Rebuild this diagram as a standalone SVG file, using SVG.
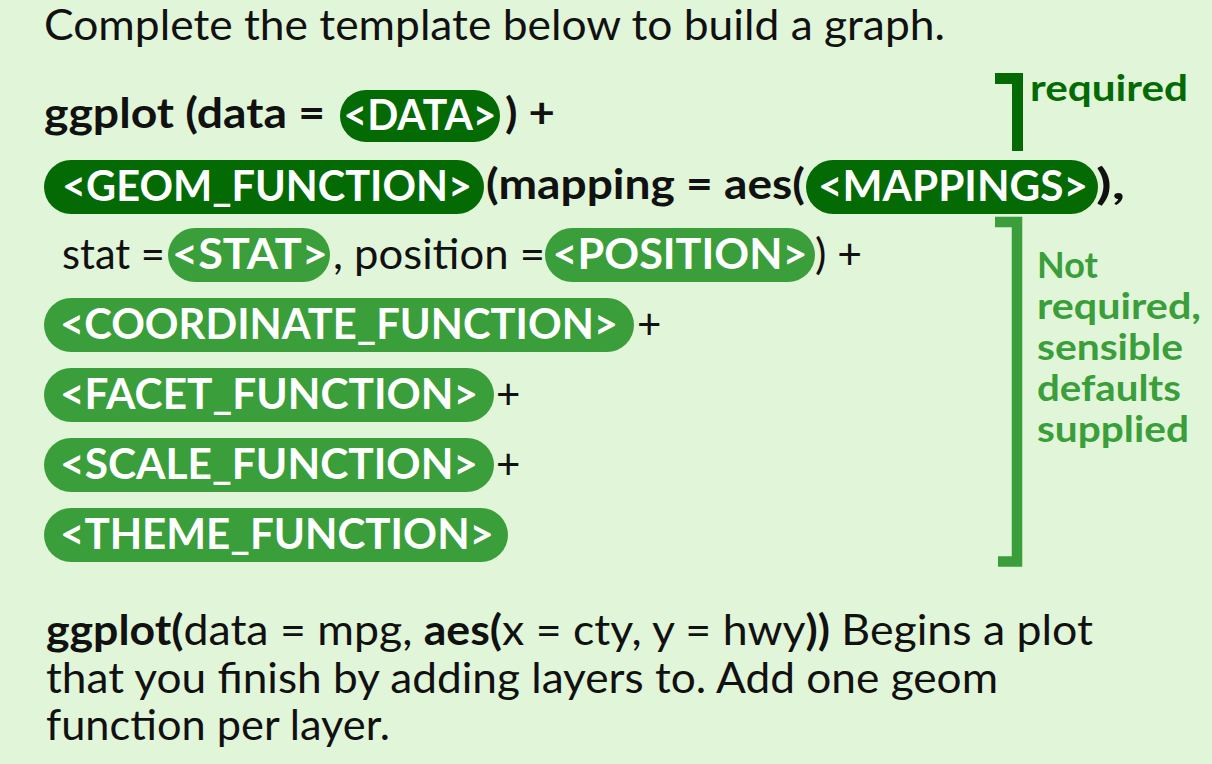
<svg xmlns="http://www.w3.org/2000/svg" width="1212" height="764" viewBox="0 0 1212 764">
  <style>
    text { font-family: Lato, "Source Sans Pro", "Noto Sans", sans-serif; }
    .title { font-size: 42px; fill: #111; }
    .code { font-size: 42px; font-weight: 700; fill: #111; }
    .plain { font-size: 42px; font-weight: 400; fill: #111; }
    .pill-dark { fill: #046A04; }
    .pill-light { fill: #3A9E3A; }
    .pill-text { font-size: 42px; font-weight: 700; fill: #fff; text-anchor: middle; }
    .note-dark { font-size: 36px; font-weight: 700; fill: #046A04; }
    .note-light { font-size: 36px; font-weight: 700; fill: #3A9E3A; }
    .body { font-size: 42px; font-weight: 400; fill: #111; }
    .b { font-weight: 700; }
  </style>
  <rect width="1212" height="764" fill="#E1F5D9"/>

  <text class="title" x="44" y="40" textLength="901" lengthAdjust="spacingAndGlyphs">Complete the template below to build a graph.</text>

  <!-- line 1: ggplot (data = <DATA>) + -->
  <g id="line-ggplot">
    <text class="code" x="44" y="128" textLength="281" lengthAdjust="spacingAndGlyphs">ggplot (data =</text>
    <rect class="pill-dark" x="340" y="90" width="160" height="52" rx="26"/>
    <text class="pill-text" x="420" y="130" textLength="153" lengthAdjust="spacingAndGlyphs">&lt;DATA&gt;</text>
    <text class="code" x="505" y="128" textLength="50" lengthAdjust="spacingAndGlyphs">) +</text>
  </g>

  <!-- line 2: geom function with mappings -->
  <g id="line-geom">
    <rect class="pill-dark" x="44" y="160" width="440" height="54" rx="27"/>
    <text class="pill-text" x="267" y="201" textLength="410" lengthAdjust="spacingAndGlyphs">&lt;GEOM_FUNCTION&gt;</text>
    <text class="code" x="486" y="199" textLength="319" lengthAdjust="spacingAndGlyphs">(mapping = aes(</text>
    <rect class="pill-dark" x="806" y="160" width="292" height="54" rx="27"/>
    <text class="pill-text" x="953" y="201" textLength="270" lengthAdjust="spacingAndGlyphs">&lt;MAPPINGS&gt;</text>
    <text class="code" x="1096" y="199" textLength="29" lengthAdjust="spacingAndGlyphs">),</text>
  </g>

  <!-- line 3: stat and position -->
  <g id="line-stat">
    <text class="plain" x="62" y="269" textLength="103" lengthAdjust="spacingAndGlyphs">stat =</text>
    <rect class="pill-light" x="168" y="228" width="162" height="54" rx="27"/>
    <text class="pill-text" x="250" y="269" textLength="156" lengthAdjust="spacingAndGlyphs">&lt;STAT&gt;</text>
    <text class="plain" x="333" y="269" textLength="212" lengthAdjust="spacingAndGlyphs">, position =</text>
    <rect class="pill-light" x="545" y="228" width="270" height="54" rx="27"/>
    <text class="pill-text" x="680" y="269" textLength="255" lengthAdjust="spacingAndGlyphs">&lt;POSITION&gt;</text>
    <text class="plain" x="815" y="269" textLength="47" lengthAdjust="spacingAndGlyphs">) +</text>
  </g>

  <!-- line 4: coordinate function -->
  <g id="line-coord">
    <rect class="pill-light" x="44" y="298" width="590" height="54" rx="27"/>
    <text class="pill-text" x="339" y="339" textLength="558" lengthAdjust="spacingAndGlyphs">&lt;COORDINATE_FUNCTION&gt;</text>
    <text class="plain" x="637" y="339">+</text>
  </g>

  <!-- line 5: facet function -->
  <g id="line-facet">
    <rect class="pill-light" x="44" y="368" width="450" height="54" rx="27"/>
    <text class="pill-text" x="269" y="409" textLength="418" lengthAdjust="spacingAndGlyphs">&lt;FACET_FUNCTION&gt;</text>
    <text class="plain" x="496" y="409">+</text>
  </g>

  <!-- line 6: scale function -->
  <g id="line-scale">
    <rect class="pill-light" x="44" y="438" width="450" height="54" rx="27"/>
    <text class="pill-text" x="269" y="479" textLength="418" lengthAdjust="spacingAndGlyphs">&lt;SCALE_FUNCTION&gt;</text>
    <text class="plain" x="496" y="479">+</text>
  </g>

  <!-- line 7: theme function -->
  <g id="line-theme">
    <rect class="pill-light" x="44" y="508" width="464" height="54" rx="27"/>
    <text class="pill-text" x="277" y="549" textLength="434" lengthAdjust="spacingAndGlyphs">&lt;THEME_FUNCTION&gt;</text>
  </g>

  <!-- brackets marking required / optional lines -->
  <g id="brackets">
    <path d="M995 78.5 H1017.5 V151" fill="none" stroke="#046A04" stroke-width="11"/>
    <path d="M995 222 H1017 V561.5 H998" fill="none" stroke="#3A9E3A" stroke-width="10.5"/>
  </g>

  <g id="note-required">
    <text class="note-dark" x="1030" y="101" textLength="158" lengthAdjust="spacingAndGlyphs">required</text>
  </g>

  <g id="note-optional">
    <text class="note-light" x="1037" y="278">Not</text>
    <text class="note-light" x="1037" y="319" textLength="164" lengthAdjust="spacingAndGlyphs">required,</text>
    <text class="note-light" x="1037" y="360" textLength="146" lengthAdjust="spacingAndGlyphs">sensible</text>
    <text class="note-light" x="1037" y="401" textLength="144" lengthAdjust="spacingAndGlyphs">defaults</text>
    <text class="note-light" x="1037" y="442" textLength="152" lengthAdjust="spacingAndGlyphs">supplied</text>
  </g>

  <!-- example description -->
  <g id="description">
    <text class="body" x="46" y="645" textLength="1047" lengthAdjust="spacingAndGlyphs"><tspan class="b">ggplot(</tspan>data = mpg, <tspan class="b">aes(</tspan>x = cty, y = hwy<tspan class="b">))</tspan> Begins a plot</text>
    <text class="body" x="46" y="693" textLength="952" lengthAdjust="spacingAndGlyphs">that you finish by adding layers to. Add one geom</text>
    <text class="body" x="46" y="740" textLength="344" lengthAdjust="spacingAndGlyphs">function per layer.</text>
  </g>
</svg>
